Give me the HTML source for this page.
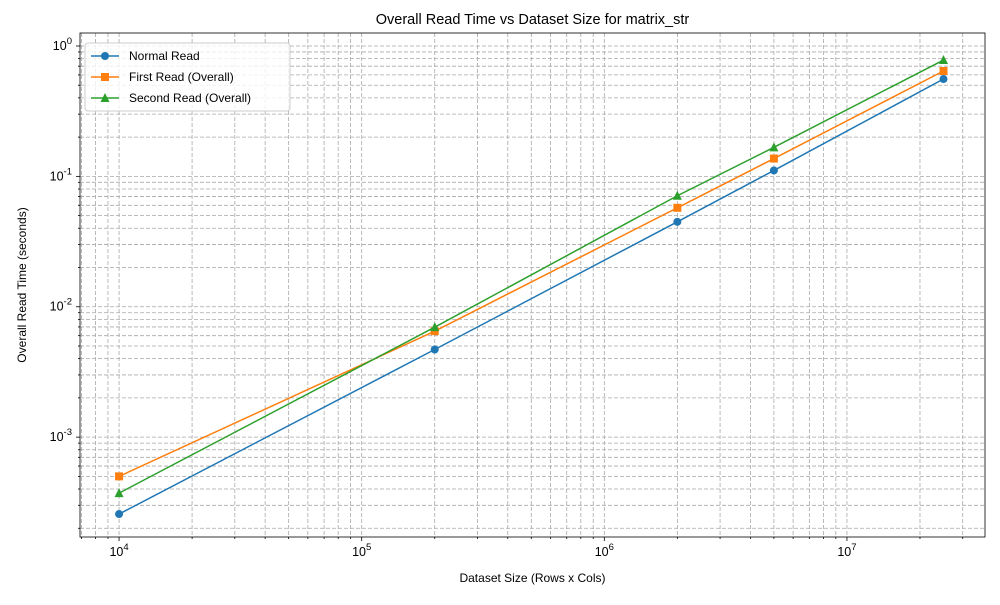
<!DOCTYPE html>
<html><head><meta charset="utf-8"><style>body{margin:0;background:#fff}svg{font-family:"Liberation Sans","DejaVu Sans",sans-serif}</style></head>
<body>
<svg id="c" width="1000" height="600"></svg>
<script>
const sizes=[1e4,2e5,2e6,5e6,2.5e7];
const normalRead=[2.57e-4,4.7e-3,0.0448,0.111,0.558];
const firstRead=[5.0e-4,6.5e-3,0.0574,0.137,0.643];
const secondRead=[3.72e-4,6.97e-3,0.071,0.167,0.78];
const xTickExp=[4,5,6,7];
const yTickExp=[-3,-2,-1,0];
const L=80,R=985,T=33,B=537;
const xMin=3.839,xMax=7.569,yMin=-3.766,yMax=0.0996;
const xs=v=>L+(Math.log10(v)-xMin)/(xMax-xMin)*(R-L);
const ys=v=>B-(Math.log10(v)-yMin)/(yMax-yMin)*(B-T);
const svg=document.getElementById('c');const NS='http://www.w3.org/2000/svg';
function mk(t,a,p){const e=document.createElementNS(NS,t);for(const k in a)e.setAttribute(k,a[k]);(p||svg).appendChild(e);return e;}
const grid=mk('g',{});
for(let d=3;d<=7;d++)for(let m=1;m<10;m++){const v=m*Math.pow(10,d);const x=xs(v);if(x<L||x>R)continue;
mk('line',{x1:x,x2:x,y1:T,y2:B,stroke:'#a8a8a8','stroke-dasharray':'4,2','stroke-width':0.8},grid);
mk('line',{x1:x,x2:x,y1:B,y2:B+(m==1?4:2),stroke:'#000','stroke-width':0.8});}
for(let d=-4;d<=0;d++)for(let m=1;m<10;m++){const v=m*Math.pow(10,d);const y=ys(v);if(y<T||y>B)continue;
mk('line',{x1:L,x2:R,y1:y,y2:y,stroke:'#a8a8a8','stroke-dasharray':'4,2','stroke-width':0.8},grid);
mk('line',{x1:L,x2:L-(m==1?4:2),y1:y,y2:y,stroke:'#000','stroke-width':0.8});}
xTickExp.forEach(e=>{const t=mk('text',{x:xs(Math.pow(10,e)),y:B+19,'text-anchor':'middle','font-size':12.5});t.innerHTML='10<tspan dy="-6" font-size="9.5">'+e+'</tspan>';

});
yTickExp.forEach(e=>{const t=mk('text',{x:L-8,y:ys(Math.pow(10,e))+4,'text-anchor':'end','font-size':12.5});t.innerHTML='10<tspan dy="-6" font-size="9.5">'+e+'</tspan>';

});
const series=[['normal-read',normalRead,'#1f77b4','o','Normal Read'],['first-read',firstRead,'#ff7f0e','s','First Read (Overall)'],['second-read',secondRead,'#2ca02c','^','Second Read (Overall)']];
function marker(g,x,y,t,c){if(t=='o')return mk('circle',{cx:x,cy:y,r:4,fill:c},g);if(t=='s')return mk('rect',{x:x-4,y:y-4,width:8,height:8,fill:c},g);return mk('polygon',{points:`${x},${y-5} ${x-4.5},${y+4} ${x+4.5},${y+4}`,fill:c},g);}
series.forEach(s=>{const g=mk('g',{});
mk('polyline',{points:sizes.map((v,i)=>xs(v)+','+ys(s[1][i])).join(' '),fill:'none',stroke:s[2],'stroke-width':1.5},g);
sizes.forEach((v,i)=>{const m=marker(g,xs(v),ys(s[1][i]),s[3],s[2]);

});});
mk('rect',{x:L,y:T,width:R-L,height:B-T,fill:'none',stroke:'#000','stroke-width':0.8});
const lg=mk('g',{});
mk('rect',{x:85,y:43,width:205,height:68,rx:3,fill:'#fff','fill-opacity':0.8,stroke:'#ccc'},lg);
series.forEach((s,i)=>{const y=56+i*21;mk('line',{x1:91,x2:119,y1:y,y2:y,stroke:s[2],'stroke-width':1.5},lg);marker(lg,105,y,s[3],s[2]);
const t=mk('text',{x:129,y:y+4,'font-size':12},lg);t.textContent=s[4];

});
let t=mk('text',{x:(L+R)/2,y:24,'text-anchor':'middle','font-size':14.5});t.textContent='Overall Read Time vs Dataset Size for matrix_str';
t=mk('text',{x:(L+R)/2,y:582,'text-anchor':'middle','font-size':12});t.textContent='Dataset Size (Rows x Cols)';
t=mk('text',{x:26,y:(T+B)/2,'text-anchor':'middle','font-size':12,transform:`rotate(-90 26 ${(T+B)/2})`});t.textContent='Overall Read Time (seconds)';
</script>
</body></html>
